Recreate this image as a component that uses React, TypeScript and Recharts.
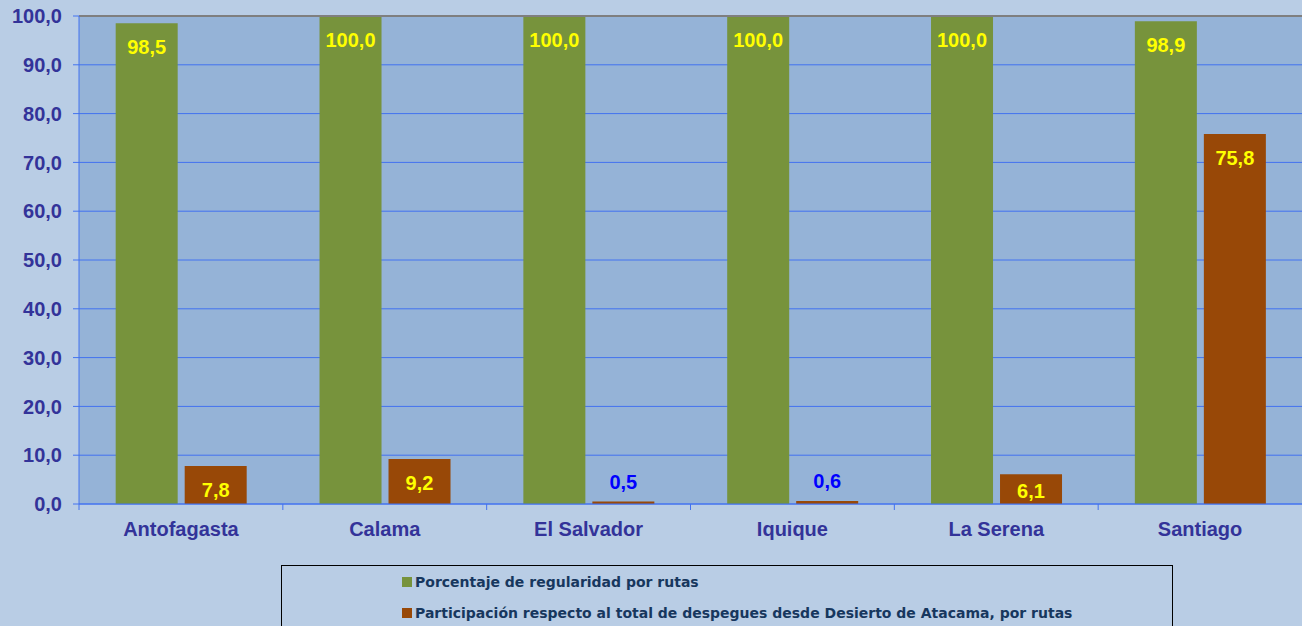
import React from 'react';
import { BarChart, Bar, XAxis, YAxis, CartesianGrid, Legend, ReferenceLine } from 'recharts';

const routes = ['Antofagasta', 'Calama', 'El Salvador', 'Iquique', 'La Serena', 'Santiago'];
const regularity = [98.5, 100.0, 100.0, 100.0, 100.0, 98.9];
const share = [7.8, 9.2, 0.5, 0.6, 6.1, 75.8];
const yTicks = [0, 10, 20, 30, 40, 50, 60, 70, 80, 90, 100];

const seriesNames = {
  regularity: 'Porcentaje de regularidad por rutas',
  share: 'Participación respecto al total de despegues desde Desierto de Atacama, por rutas',
};

const data = routes.map((route, i) => ({ route, regularity: regularity[i], share: share[i] }));

const FONT = '"Liberation Sans", Arial, sans-serif';
const GREEN = '#77933c';
const BROWN = '#984807';
const AXIS_TEXT = '#333399';
const GRID = '#4272f0';

const fmt = (v: number) => v.toFixed(1).replace('.', ',');

const BarLabel = (props: any) => {
  const { x, y, width, height, value } = props;
  const cx = Number(x) + Number(width) / 2;
  const small = Number(value) < 3;
  // keep the label inside short bars
  const inside = Math.min(24, Number(height) - 13);
  return (
    <text
      x={cx}
      y={small ? Number(y) - 20 : Number(y) + inside}
      textAnchor="middle"
      dominantBaseline="central"
      fontFamily={FONT}
      fontWeight="bold"
      fontSize={20}
      fill={small ? '#0000ff' : '#ffff00'}
    >
      {fmt(Number(value))}
    </text>
  );
};

const CategoryTick = (props: any) => {
  const { x, y, payload } = props;
  const half = payload?.offset ?? 0;
  return (
    <g>
      <line x1={x - half} x2={x - half} y1={y - 8} y2={y - 2} stroke={GRID} />
      <text
        x={x}
        y={y + 17}
        textAnchor="middle"
        dominantBaseline="central"
        fontFamily={FONT}
        fontWeight="bold"
        fontSize={20}
        fill={AXIS_TEXT}
      >
        {payload.value}
      </text>
    </g>
  );
};

const LegendBox = () => (
  <div
    style={{
      boxSizing: 'border-box',
      width: 892,
      height: 66,
      border: '1px solid #000',
      background: '#b9cde5',
      paddingLeft: 120,
      paddingTop: 0,
      fontFamily: '"DejaVu Sans", sans-serif',
      fontWeight: 'bold',
      fontSize: 14,
      color: '#17375e',
      textAlign: 'left',
    }}
  >
    {[
      { name: seriesNames.regularity, color: GREEN },
      { name: seriesNames.share, color: BROWN },
    ].map((item) => (
      <div key={item.name} style={{ height: 31, display: 'flex', alignItems: 'center' }}>
        <span style={{ display: 'inline-block', width: 10, height: 10, background: item.color, marginRight: 3 }} />
        <span>{item.name}</span>
      </div>
    ))}
  </div>
);

export default function App() {
  return (
    <div style={{ position: 'absolute', left: 0, top: 0, width: 1302, height: 626, background: '#b9cde5', overflow: 'hidden' }}>
      <BarChart
        width={1302}
        height={626}
        data={data}
        margin={{ top: 16, right: 0, left: 0, bottom: 6 }}
        barCategoryGap="18%"
        barGap={7}
      >
        <CartesianGrid vertical={false} stroke={GRID} fill="#95b3d7" fillOpacity={1} />
        <ReferenceLine y={100} stroke="#7f7f7f" strokeWidth={2} />
        <XAxis
          dataKey="route"
          height={50}
          axisLine={{ stroke: GRID }}
          tickLine={false}
          tick={<CategoryTick />}
          interval={0}
        />
        <YAxis
          width={79}
          domain={[0, 100]}
          ticks={yTicks}
          tickFormatter={fmt}
          axisLine={{ stroke: GRID }}
          tickLine={{ stroke: GRID }}
          tickSize={6}
          tickMargin={11}
          tick={{ fontFamily: FONT, fontWeight: 'bold', fontSize: 20, fill: AXIS_TEXT }}
        />
        <Legend
          verticalAlign="bottom"
          content={<LegendBox />}
          wrapperStyle={{ left: 281, top: 565, width: 892 }}
        />
        <Bar dataKey="regularity" name={seriesNames.regularity} fill={GREEN} isAnimationActive={false} label={<BarLabel />} />
        <Bar dataKey="share" name={seriesNames.share} fill={BROWN} isAnimationActive={false} label={<BarLabel />} />
      </BarChart>
    </div>
  );
}
